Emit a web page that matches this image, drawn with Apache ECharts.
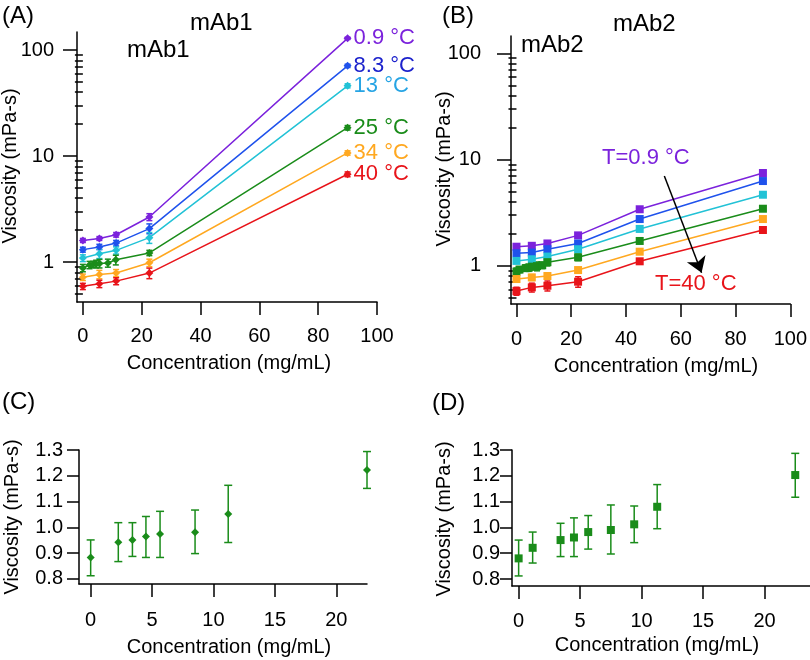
<!DOCTYPE html>
<html>
<head>
<meta charset="utf-8">
<script src="https://cdn.jsdelivr.net/npm/echarts@6/dist/echarts.min.js"></script>
<style>
  html, body { margin: 0; padding: 0; background: #fff; }
  #main { width: 810px; height: 660px; }
</style>
</head>
<body>
<div id="main"></div>
<script>
// ---- values ----
// (A) mAb1, viscosity (mPa-s) vs concentration (mg/mL)
const concA = [0, 5.6, 11.3, 22.6, 90];
const concA25 = [0, 2.25, 3.4, 4.5, 5.65, 8.5, 11.2, 22.6, 90];
const viscA09 = [1.60, 1.67, 1.81, 2.66, 129];
const viscA83 = [1.31, 1.39, 1.51, 2.07, 71];
const viscA13 = [1.09, 1.20, 1.29, 1.70, 46];
const viscA25 = [0.88, 0.94, 0.95, 0.96, 0.97, 0.98, 1.05, 1.22, 18.5];
const viscA34 = [0.72, 0.765, 0.79, 0.985, 10.7];
const viscA40 = [0.59, 0.624, 0.661, 0.787, 6.73];
const errA09 = [0.07, 0.07, 0.09, 0.2, 3];
const errA83 = [0.07, 0.08, 0.09, 0.22, 2.5];
const errA13 = [0.08, 0.12, 0.1, 0.2, 2];
const errA25 = [0.07, 0.075, 0.065, 0.08, 0.09, 0.085, 0.11, 0.07, 0.9];
const errA34 = [0.05, 0.07, 0.06, 0.08, 0.5];
const errA40 = [0.04, 0.05, 0.05, 0.09, 0.35];

// (B) mAb2
const concB = [0, 5.6, 11.3, 22.5, 45, 90];
const concB25 = [0, 1.1, 3.4, 4.5, 5.7, 7.5, 9.4, 11.3, 22.5, 45, 90];
const viscB09 = [1.51, 1.54, 1.62, 1.93, 3.40, 7.46];
const viscB83 = [1.31, 1.33, 1.43, 1.62, 2.75, 6.27];
const viscB13 = [1.11, 1.15, 1.22, 1.43, 2.22, 4.66];
const viscB25 = [0.88, 0.92, 0.95, 0.96, 0.98, 0.99, 1.01, 1.08, 1.20, 1.71, 3.44];
const viscB34 = [0.749, 0.776, 0.80, 0.91, 1.355, 2.75];
const viscB40 = [0.577, 0.625, 0.648, 0.707, 1.10, 2.17];
const errB09 = [0.06, 0.06, 0.06, 0.06, 0.1, 0.2];
const errB83 = [0.05, 0.05, 0.06, 0.06, 0.08, 0.15];
const errB13 = [0.05, 0.05, 0.05, 0.06, 0.07, 0.12];
const errB25 = [0.07, 0.06, 0.065, 0.075, 0.065, 0.095, 0.07, 0.085, 0.085, 0.06, 0.1];
const errB34 = [0.05, 0.05, 0.05, 0.05, 0.05, 0.08];
const errB40 = [0.05, 0.06, 0.07, 0.08, 0.05, 0.08];

// (C) mAb1 at 25 °C, low concentration
const concC = [0, 2.25, 3.4, 4.5, 5.65, 8.5, 11.2, 22.5];
const viscC = [0.883, 0.942, 0.951, 0.964, 0.974, 0.981, 1.052, 1.222];
const loC = [0.812, 0.867, 0.887, 0.883, 0.883, 0.898, 0.941, 1.151];
const hiC = [0.951, 1.018, 1.018, 1.042, 1.062, 1.067, 1.163, 1.294];

// (D) mAb2 at 25 °C, low concentration
const concD = [0, 1.14, 3.41, 4.5, 5.66, 7.5, 9.4, 11.27, 22.5];
const viscD = [0.880, 0.921, 0.951, 0.961, 0.982, 0.990, 1.012, 1.080, 1.203];
const loD = [0.812, 0.862, 0.887, 0.887, 0.916, 0.897, 0.941, 0.995, 1.117];
const hiD = [0.951, 0.982, 1.016, 1.037, 1.046, 1.087, 1.083, 1.166, 1.287];

const tempNames = ['0.9 °C', '8.3 °C', '13 °C', '25 °C', '34 °C', '40 °C'];
const logMajor = [1, 10, 100];
const logMinor = [0.5, 0.6, 0.7, 0.8, 0.9, 2, 3, 4, 5, 6, 7, 8, 9, 20, 30, 40, 50, 60, 70, 80, 90];
const ticksWide = [0, 20, 40, 60, 80, 100];
const ticksNarrow = [0, 5, 10, 15, 20];
const ticksLin = [0.8, 0.9, 1.0, 1.1, 1.2, 1.3];

// axis ranges
const xRangeA = [-2, 100], yRangeA = [0.42, 148];
const xRangeB = [-2, 100], yRangeB = [0.436, 145.5];
const xRangeC = [-0.95, 22.5], yRangeC = [0.78, 1.3];
const xRangeD = [-0.54, 23.7], yRangeD = [0.773, 1.3];

const lineColors = ['#7b22dc', '#1f52ec', '#22c2d6', '#1a8c1a', '#ffa820', '#e8141a'];
const labelColors = ['#7b22dc', '#1c22cc', '#26a4e4', '#1a8c1a', '#ffa820', '#e8141a'];
const FONT = 'Liberation Sans';

// main y axis index for each grid (grids 0 and 1 carry a 2nd axis for the minor log ticks)
const yIdx = [0, 2, 4, 5];

const chart = echarts.init(document.getElementById('main'));

function zip(xs, ys) {
  return xs.map((x, i) => [x, ys[i]]);
}

// error bars, placed with the axes' own coordinate mapping
function errSeries(xs, lo, hi, gi, color, cap) {
  return {
    type: 'custom',
    xAxisIndex: gi, yAxisIndex: yIdx[gi],
    encode: { x: 0, y: [1, 2] },
    itemStyle: { color: color },
    silent: true,
    z: 2,
    data: xs.map((x, i) => [x, lo[i], hi[i]]),
    renderItem: function (params, api) {
      const top = api.coord([api.value(0), api.value(2)]);
      const bot = api.coord([api.value(0), api.value(1)]);
      const st = { stroke: color, lineWidth: 1.5 };
      return {
        type: 'group',
        children: [
          { type: 'line', shape: { x1: top[0], y1: top[1], x2: bot[0], y2: bot[1] }, style: st },
          { type: 'line', shape: { x1: top[0] - cap, y1: top[1], x2: top[0] + cap, y2: top[1] }, style: st },
          { type: 'line', shape: { x1: bot[0] - cap, y1: bot[1], x2: bot[0] + cap, y2: bot[1] }, style: st }
        ]
      };
    }
  };
}

function symErr(xs, ys, es, gi, color, cap) {
  return errSeries(xs, ys.map((v, i) => v - es[i]), ys.map((v, i) => v + es[i]), gi, color, cap);
}

// tick labels placed through the axes' mapping (ECharts 6 shifts these axis labels oddly here)
function tickLabels(gi, pts, which, dx, dy, align) {
  return {
    type: 'custom',
    xAxisIndex: gi, yAxisIndex: yIdx[gi],
    encode: { x: 0, y: 1 },
    silent: true,
    clip: false,
    z: 5,
    data: pts,
    renderItem: function (params, api) {
      const p = api.coord([api.value(0), api.value(1)]);
      return {
        type: 'text', x: p[0] + dx, y: p[1] + dy,
        style: { text: String(api.value(which)), fill: '#000', fontSize: 20, fontFamily: FONT,
          align: align, verticalAlign: 'middle' }
      };
    }
  };
}

function lineSeries(name, xs, ys, gi, color, symbol, size, lblColor) {
  const s = {
    name: name,
    type: 'line',
    xAxisIndex: gi, yAxisIndex: yIdx[gi],
    data: zip(xs, ys),
    symbol: symbol, symbolSize: size,
    showSymbol: true,
    lineStyle: { color: color, width: 1.5 },
    itemStyle: { color: color },
    z: 3
  };
  if (lblColor) {
    s.endLabel = { show: true, formatter: name, color: lblColor, fontSize: 22, fontFamily: FONT, distance: 6 };
  }
  return s;
}

const axisLine = { onZero: false, lineStyle: { color: '#000', width: 1.5 } };
const tickLine = { color: '#000', width: 1.5 };

function xAxisCfg(gi, range, ticks, margin, showLabel) {
  return {
    type: 'value', gridIndex: gi, min: range[0], max: range[1], position: 'bottom',
    axisLine: axisLine,
    axisTick: { customValues: ticks, length: 13, lineStyle: tickLine },
    axisLabel: { show: showLabel, customValues: ticks, margin: margin, fontSize: 20, color: '#000', fontFamily: FONT },
    splitLine: { show: false }
  };
}

function logAxes(gi, range) {
  return [
    {
      type: 'log', gridIndex: gi, min: range[0], max: range[1], position: 'left',
      axisLine: axisLine,
      axisTick: { customValues: logMajor, length: 14, lineStyle: tickLine },
      axisLabel: { show: false },
      splitLine: { show: false }
    },
    {
      type: 'log', gridIndex: gi, min: range[0], max: range[1], position: 'left',
      axisLine: { show: false },
      axisTick: { customValues: logMinor, length: 8, lineStyle: tickLine },
      axisLabel: { show: false },
      splitLine: { show: false }
    }
  ];
}

function linAxis(gi, range, margin) {
  return {
    type: 'value', gridIndex: gi, min: range[0], max: range[1], position: 'left',
    axisLine: axisLine,
    axisTick: { customValues: ticksLin, length: 12, lineStyle: tickLine },
    axisLabel: { customValues: ticksLin, margin: margin, align: 'right', fontSize: 20, color: '#000', fontFamily: FONT,
      formatter: v => v.toFixed(1) },
    splitLine: { show: false }
  };
}

function txt(text, left, top, size, color) {
  return { text: text, left: left, top: top, padding: 0,
    textStyle: { fontSize: size, fontWeight: 'normal', color: color || '#000', fontFamily: FONT } };
}

// axis titles as plain text (x centre, y centre, rotated or not)
function axisTitle(text, cx, cy, rotated) {
  return {
    type: 'text', x: cx, y: cy, rotation: rotated ? Math.PI / 2 : 0, silent: true,
    style: { text: text, fill: '#000', fontSize: 20, fontFamily: FONT, align: 'center', verticalAlign: 'middle' }
  };
}

const series = [];
const setsA = [[concA, viscA09, errA09], [concA, viscA83, errA83], [concA, viscA13, errA13],
  [concA25, viscA25, errA25], [concA, viscA34, errA34], [concA, viscA40, errA40]];
const setsB = [[concB, viscB09, errB09], [concB, viscB83, errB83], [concB, viscB13, errB13],
  [concB25, viscB25, errB25], [concB, viscB34, errB34], [concB, viscB40, errB40]];

setsA.forEach((d, k) => {
  series.push(symErr(d[0], d[1], d[2], 0, lineColors[k], 3));
  series.push(lineSeries(tempNames[k], d[0], d[1], 0, lineColors[k], 'diamond', 8, labelColors[k]));
});
setsB.forEach((d, k) => {
  series.push(symErr(d[0], d[1], d[2], 1, lineColors[k], 3));
  const s = lineSeries('mAb2 ' + tempNames[k], d[0], d[1], 1, lineColors[k], 'rect', 8);
  if (k === 0) {
    // arrow from T=0.9 °C down to T=40 °C
    s.markLine = {
      silent: true, symbol: ['none', 'arrow'], symbolSize: 15,
      label: { show: false },
      lineStyle: { color: '#000', width: 1.5, type: 'solid' },
      data: [[{ coord: [54, 7.0] }, { coord: [67.6, 0.86] }]]
    };
  }
  series.push(s);
});
series.push(errSeries(concC, loC, hiC, 2, lineColors[3], 4));
series.push(Object.assign(lineSeries('C', concC, viscC, 2, lineColors[3], 'diamond', 8),
  { lineStyle: { width: 0, opacity: 0 } }));
series.push(errSeries(concD, loD, hiD, 3, lineColors[3], 4));
series.push(Object.assign(lineSeries('D', concD, viscD, 3, lineColors[3], 'rect', 8),
  { lineStyle: { width: 0, opacity: 0 } }));

// tick labels of the log y axes and of the lower x axes
series.push(tickLabels(0, logMajor.map(v => [xRangeA[0], v]), 1, -23, 0, 'right'));
series.push(tickLabels(1, logMajor.map(v => [xRangeB[0], v]), 1, -30, 0, 'right'));
series.push(tickLabels(2, ticksNarrow.map(v => [v, yRangeC[0]]), 0, 0, 36, 'center'));
series.push(tickLabels(3, ticksNarrow.map(v => [v, yRangeD[0]]), 0, 0, 35, 'center'));

chart.setOption({
  animation: false,
  backgroundColor: '#fff',
  textStyle: { fontFamily: FONT },
  title: [
    txt('(A)', 2, 4, 24), txt('mAb1', 190, 11, 24), txt('mAb1', 127, 38, 24),
    txt('(B)', 442, 4, 24), txt('mAb2', 613, 12, 24), txt('mAb2', 521, 33, 24),
    txt('T=0.9 °C', 602, 147, 22, labelColors[0]), txt('T=40 °C', 655, 273, 22, labelColors[5]),
    txt('(C)', 2, 390, 24), txt('(D)', 432, 391, 24)
  ],
  graphic: [
    axisTitle('Viscosity (mPa-s)', 10, 166, true),
    axisTitle('Viscosity (mPa-s)', 444, 169, true),
    axisTitle('Viscosity (mPa-s)', 12, 517, true),
    axisTitle('Viscosity (mPa-s)', 444, 519, true),
    axisTitle('Concentration (mg/mL)', 229, 363, false),
    axisTitle('Concentration (mg/mL)', 656, 366, false),
    axisTitle('Concentration (mg/mL)', 229, 647, false),
    axisTitle('Concentration (mg/mL)', 657, 645, false)
  ],
  grid: [
    { left: 77, top: 32, width: 300, height: 270 },
    { left: 511, top: 36, width: 282, height: 268 },
    { left: 79, top: 450, width: 288, height: 134 },
    { left: 512, top: 450, width: 298, height: 136 }
  ],
  xAxis: [
    xAxisCfg(0, xRangeA, ticksWide, 24, true),
    xAxisCfg(1, xRangeB, ticksWide, 25, true),
    xAxisCfg(2, xRangeC, ticksNarrow, 27, false),
    xAxisCfg(3, xRangeD, ticksNarrow, 27, false)
  ],
  yAxis: [
    ...logAxes(0, yRangeA),
    ...logAxes(1, yRangeB),
    linAxis(2, yRangeC, 16),
    linAxis(3, yRangeD, 12)
  ],
  series: series
});
</script>
</body>
</html>
